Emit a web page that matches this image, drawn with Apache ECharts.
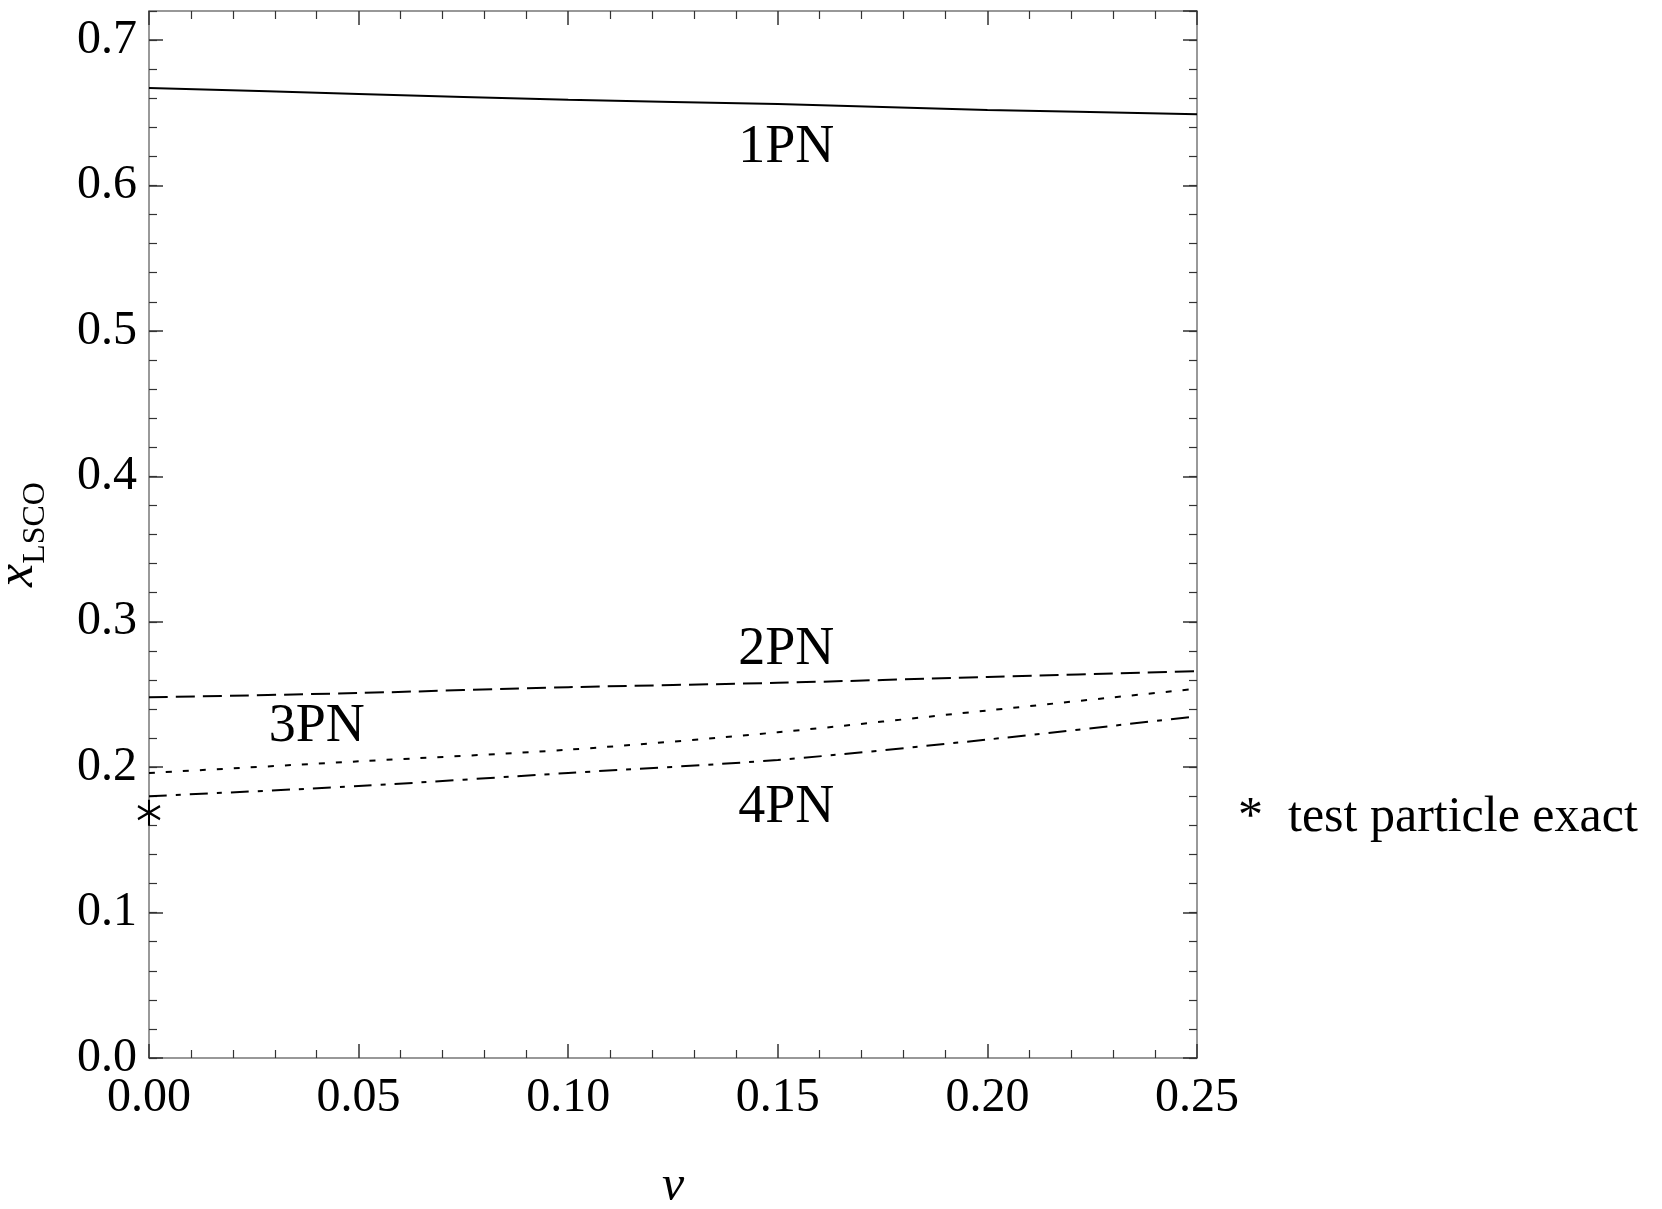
<!DOCTYPE html>
<html>
<head>
<meta charset="utf-8">
<script src="https://cdn.jsdelivr.net/npm/echarts@6/dist/echarts.min.js"></script>
<style>
  html, body { margin: 0; padding: 0; background: #fff; }
  #chart { width: 1662px; height: 1209px; }
</style>
</head>
<body>
<div id="chart"></div>
<script>
// nu values where the curves were read
const nu = [0, 0.05, 0.10, 0.15, 0.20, 0.25];
const pn1 = [0.667, 0.663, 0.659, 0.656, 0.652, 0.649];
const pn2 = [0.248, 0.251, 0.255, 0.258, 0.262, 0.266];
const pn3 = [0.196, 0.204, 0.212, 0.224, 0.239, 0.254];
const pn4 = [0.180, 0.187, 0.196, 0.205, 0.219, 0.235];
const testParticle = [[0, 0.1687]];

const curveNames = ['1PN', '2PN', '3PN', '4PN'];
// where the curve names sit, in data units
const labelPos = [[0.152, 0.626], [0.152, 0.281], [0.040, 0.228], [0.152, 0.172]];

const font = 'Liberation Serif';
const frameColor = '#777';
const tickColor = '#333';

const pairs = ys => nu.map((x, i) => [x, ys[i]]);

const chart = echarts.init(document.getElementById('chart'));

const xBase = {
  type: 'value', min: 0, max: 0.25, interval: 0.05,
  splitLine: { show: false },
  axisLine: { onZero: false, lineStyle: { color: frameColor, width: 1.5 } },
  axisTick: { inside: true, length: 14, lineStyle: { color: tickColor, width: 1.5 } },
  minorTick: { show: true, splitNumber: 5, length: 8, lineStyle: { color: tickColor, width: 1.2 } }
};
const yMajor = {
  type: 'value', min: 0, max: 0.72, interval: 0.1, offset: 0,
  splitLine: { show: false },
  axisLine: { show: true, onZero: false, lineStyle: { color: frameColor, width: 1.5 } },
  axisTick: { inside: true, length: 14, lineStyle: { color: tickColor, width: 1.5 } }
};
// second axis on each side, only for the short ticks every 0.02
const yMinor = {
  type: 'value', min: 0, max: 0.72, interval: 0.02, offset: 0,
  splitLine: { show: false },
  axisLine: { show: false, onZero: false },
  axisLabel: { show: false },
  axisTick: { inside: true, length: 8, lineStyle: { color: tickColor, width: 1.2 } }
};

const option = {
  backgroundColor: '#fff',
  animation: false,
  grid: { left: 149, top: 11, right: 465, bottom: 151, outerBoundsMode: 'none', containLabel: false },
  xAxis: [
    Object.assign({}, xBase, {
      position: 'bottom',
      name: 'ν', nameLocation: 'middle', nameGap: 104,
      nameTextStyle: { fontFamily: font, fontStyle: 'italic', fontSize: 50, color: '#000' },
      axisLabel: {
        margin: 16, fontFamily: font, fontSize: 48, color: '#000',
        formatter: v => v.toFixed(2)
      }
    }),
    Object.assign({}, xBase, { position: 'top', axisLabel: { show: false } })
  ],
  yAxis: [
    Object.assign({}, yMajor, {
      position: 'left',
      name: '{i|x}{s|LSCO}', nameLocation: 'middle', nameGap: 97, nameRotate: 90,
      nameTextStyle: {
        rich: {
          i: { fontFamily: font, fontStyle: 'italic', fontSize: 52, color: '#000', verticalAlign: 'top', lineHeight: 60 },
          s: { fontFamily: font, fontSize: 32, color: '#000', verticalAlign: 'bottom', lineHeight: 60, padding: [24, 0, 0, 0] }
        }
      },
      axisLabel: {
        margin: 12, fontFamily: font, fontSize: 48, color: '#000', showMaxLabel: false,
        formatter: v => v.toFixed(1)
      }
    }),
    Object.assign({}, yMinor, { position: 'left' }),
    Object.assign({}, yMajor, { position: 'right', axisLabel: { show: false } }),
    Object.assign({}, yMinor, { position: 'right' })
  ],
  series: [
    {
      name: '1PN', type: 'line', data: pairs(pn1), smooth: 0.3, showSymbol: false,
      lineStyle: { color: '#000', width: 2, type: 'solid' }
    },
    {
      name: '2PN', type: 'line', data: pairs(pn2), smooth: 0.3, showSymbol: false,
      lineStyle: { color: '#000', width: 2, type: [19, 8] }
    },
    {
      name: '3PN', type: 'line', data: pairs(pn3), smooth: 0.3, showSymbol: false,
      lineStyle: { color: '#000', width: 2, type: [6, 11] }
    },
    {
      name: '4PN', type: 'line', data: pairs(pn4), smooth: 0.3, showSymbol: false,
      lineStyle: { color: '#000', width: 2, type: [18, 9, 5, 9] }
    },
    {
      name: 'test particle', type: 'scatter', data: testParticle,
      symbol: 'path://M0,-10L0,10M-8.66,-5L8.66,5M-8.66,5L8.66,-5',
      symbolSize: [22, 26],
      itemStyle: { color: 'none', borderColor: '#000', borderWidth: 2.2, opacity: 1 },
      z: 5
    },
    {
      name: 'labels', type: 'scatter', symbolSize: 0, silent: true,
      data: labelPos.map((p, i) => ({ value: p, name: curveNames[i] })),
      itemStyle: { opacity: 1 },
      label: {
        show: true, position: 'inside', formatter: p => p.name,
        fontFamily: font, fontSize: 54, color: '#000', textBorderWidth: 0, opacity: 1
      }
    }
  ],
  graphic: [
    {
      type: 'text', left: 1238, top: 793,
      style: { text: '*  test particle exact', fontFamily: font, fontSize: 50, fill: '#000' }
    }
  ]
};

chart.setOption(option);
</script>
</body>
</html>
